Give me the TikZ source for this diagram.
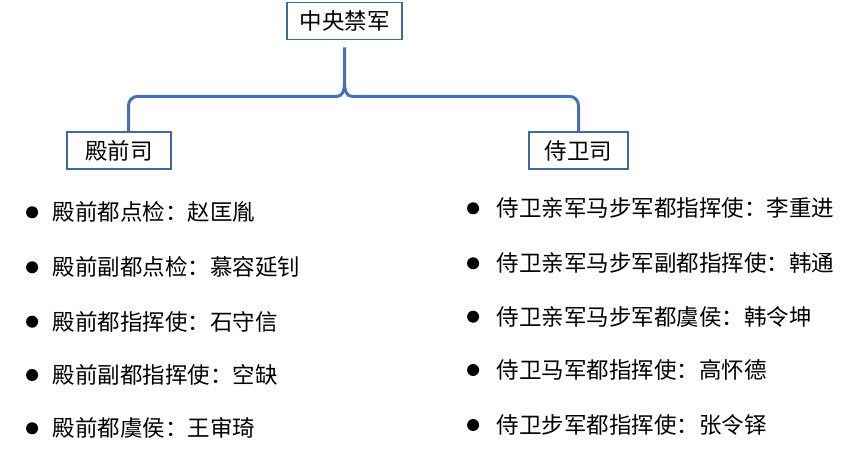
\documentclass[tikz,border=0pt]{standalone}
\usepackage{fontspec}
\setmainfont{Noto Sans CJK SC}
\usetikzlibrary{positioning}

\definecolor{boxblue}{RGB}{66,104,164}
\definecolor{braceblue}{RGB}{72,112,178}

\begin{document}
\begin{tikzpicture}[
  x=1pt, y=-1pt,
  every node/.style={
      font=\fontsize{22.5pt}{27pt}\selectfont
  },
  box/.style={
      rectangle,
      draw=boxblue,
      line width=1.8pt,
      text centered,
      minimum height=37pt,
      inner sep=0pt,
      fill=white
  },
  brace/.style={
      draw=braceblue,
      line width=3pt
  },
  entry/.style={
      anchor=west,
      inner sep=0pt
  },
  dot/.style={
      circle,
      fill=black,
      minimum size=12pt,
      inner sep=0pt
  }
]

\useasboundingbox (0,0) rectangle (864,453);

% ==================================================
% Boxes
% ==================================================

\node[box, minimum width=115pt] (zyjj) at (344.5,21) {中央禁军};

\node[box, minimum width=104pt] (dqs) at (119,150.5) {殿前司};

\node[box, minimum width=99pt] (sws) at (578.5,150.5) {侍卫司};

% ==================================================
% Brace
% ==================================================

\coordinate (tip) at ([yshift=-42pt]zyjj.south);

\draw[brace, rounded corners=9pt]
([xshift=9.5pt]dqs.north)
|- ([xshift=-7pt,yshift=-14pt]tip);

\draw[brace]
([xshift=-7.5pt,yshift=-14pt]tip)
.. controls +(5pt,0pt) and +(0pt,-9pt) .. (tip)
-- ([yshift=-7pt]zyjj.south);

\draw[brace]
(tip)
.. controls +(0pt,-9pt) and +(-5pt,0pt) .. ([xshift=7.5pt,yshift=-14pt]tip);

\draw[brace, rounded corners=9pt]
([xshift=7pt,yshift=-14pt]tip)
-| (sws.north);

% ==================================================
% Left list : 殿前司
% ==================================================

\node[entry] (l1) at (52.7,212.3) {殿前都点检：赵匡胤};
\node[entry] (l2) at (52.7,267.3) {殿前副都点检：慕容延钊};
\node[entry] (l3) at (52.7,321.7) {殿前都指挥使：石守信};
\node[entry] (l4) at (52.7,375) {殿前副都指挥使：空缺};
\node[entry] (l5) at (52.7,428.3) {殿前都虞侯：王审琦};

\node[dot, left=14.4pt of l1] (dl1) {};
\node[dot, left=14.4pt of l2] (dl2) {};
\node[dot, left=14.4pt of l3] (dl3) {};
\node[dot, left=14.4pt of l4] (dl4) {};
\node[dot, left=14.4pt of l5] (dl5) {};

% ==================================================
% Right list : 侍卫司
% ==================================================

\node[entry] (r1) at (496.7,208.3) {侍卫亲军马步军都指挥使：李重进};
\node[entry] (r2) at (496.7,263.3) {侍卫亲军马步军副都指挥使：韩通};
\node[entry] (r3) at (496.7,316.7) {侍卫亲军马步军都虞侯：韩令坤};
\node[entry] (r4) at (496.7,370) {侍卫马军都指挥使：高怀德};
\node[entry] (r5) at (496.7,425) {侍卫步军都指挥使：张令铎};

\node[dot, left=17.4pt of r1] (dr1) {};
\node[dot, left=17.4pt of r2] (dr2) {};
\node[dot, left=17.4pt of r3] (dr3) {};
\node[dot, left=17.4pt of r4] (dr4) {};
\node[dot, left=17.4pt of r5] (dr5) {};

\end{tikzpicture}
\end{document}
